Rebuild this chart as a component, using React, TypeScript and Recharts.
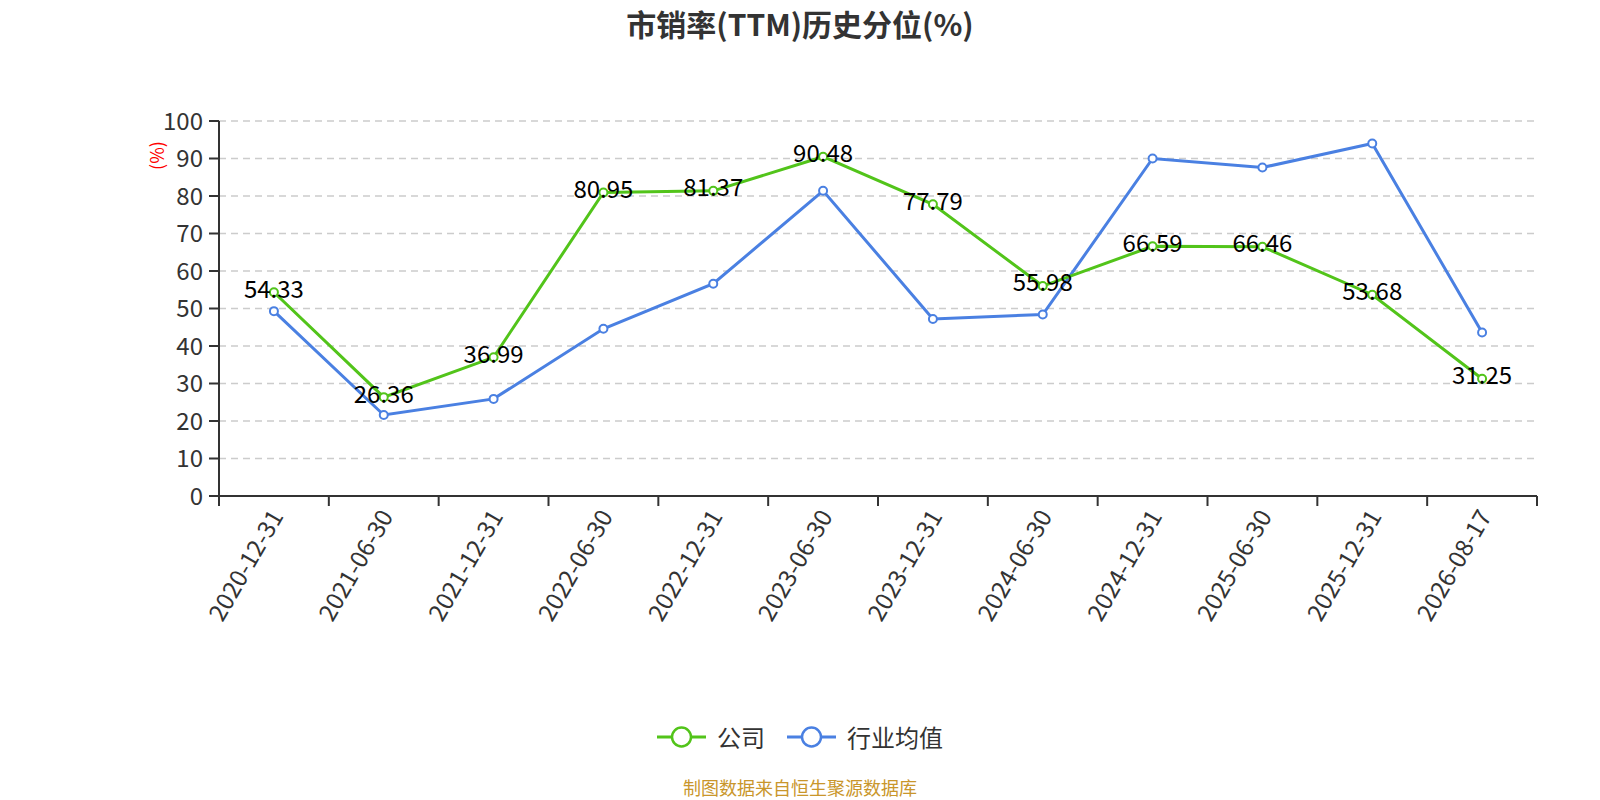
import React from "react";
import {
  LineChart,
  Line,
  XAxis,
  YAxis,
  CartesianGrid,
  LabelList,
} from "recharts";

const dates = [
  "2020-12-31",
  "2021-06-30",
  "2021-12-31",
  "2022-06-30",
  "2022-12-31",
  "2023-06-30",
  "2023-12-31",
  "2024-06-30",
  "2024-12-31",
  "2025-06-30",
  "2025-12-31",
  "2026-08-17",
];
const companyValues = [54.33, 26.36, 36.99, 80.95, 81.37, 90.48, 77.79, 55.98, 66.59, 66.46, 53.68, 31.25];
const industryValues = [49.3, 21.6, 25.9, 44.6, 56.6, 81.4, 47.2, 48.4, 90.0, 87.6, 94.0, 43.6];
const yTicks = [0, 10, 20, 30, 40, 50, 60, 70, 80, 90, 100];

const GREEN = "#52c41a";
const BLUE = "#4a80e2";
const FONT = '"Noto Sans CJK SC", "Noto Sans", sans-serif';

const W = 1600;
const H = 800;
const MARGIN = { top: 121, right: 63, bottom: 154, left: 149 };
const Y_AXIS_W = 70;
const X_AXIS_H = 150;
// width of one category band, used to put tick marks on band edges
const BAND = (W - MARGIN.left - MARGIN.right - Y_AXIS_W) / dates.length;

const data = dates.map((date, i) => ({
  date,
  company: companyValues[i],
  industry: industryValues[i],
}));

// rotated date label under each category + tick marks at the band edges
function DateTick(props: any) {
  const { x, y, payload, index } = props;
  const tx = x + 3;
  const ty = y + 16;
  const left = x - BAND / 2;
  const right = x + BAND / 2;
  return (
    <g>
      <line x1={left} y1={y} x2={left} y2={y + 10} stroke="#333" strokeWidth={2} />
      {index === dates.length - 1 && (
        <line x1={right} y1={y} x2={right} y2={y + 10} stroke="#333" strokeWidth={2} />
      )}
      <text
        x={tx}
        y={ty}
        transform={`rotate(-60, ${tx}, ${ty})`}
        textAnchor="end"
        dy="0.35em"
        fontSize={24}
        fill="#333"
        fontFamily={FONT}
      >
        {payload.value}
      </text>
    </g>
  );
}

function ValueLabel(props: any) {
  const { x, y, value } = props;
  return (
    <text
      x={x}
      y={y - 3}
      dy="0.35em"
      textAnchor="middle"
      fontSize={24}
      fill="#000"
      fontFamily={FONT}
    >
      {value}
    </text>
  );
}

function UnitLabel(props: any) {
  const { viewBox } = props;
  const cx = viewBox.x + 8.5;
  const cy = viewBox.y + 34.5;
  return (
    <text
      x={cx}
      y={cy}
      transform={`rotate(-90, ${cx}, ${cy})`}
      textAnchor="middle"
      dy="0.35em"
      fontSize={18}
      fill="#ff0000"
      fontFamily={FONT}
    >
      (%)
    </text>
  );
}

function LegendItem({ color, text }: { color: string; text: string }) {
  return (
    <span style={{ display: "inline-flex", alignItems: "center" }}>
      <svg width={49} height={24}>
        <line x1={0} y1={12} x2={49} y2={12} stroke={color} strokeWidth={3} />
        <circle cx={24.5} cy={12} r={9.5} fill="#fff" stroke={color} strokeWidth={2.5} />
      </svg>
      <span style={{ marginLeft: 11 }}>{text}</span>
    </span>
  );
}

export default function App() {
  return (
    <div
      style={{
        position: "absolute",
        left: 0,
        top: 0,
        width: W,
        height: H,
        overflow: "hidden",
        background: "#fff",
        fontFamily: FONT,
      }}
    >
      <div
        style={{
          position: "absolute",
          top: 8,
          left: 0,
          width: W,
          textAlign: "center",
          fontSize: 30,
          lineHeight: "30px",
          fontWeight: "bold",
          color: "#333",
          zIndex: 1,
        }}
      >
        市销率(TTM)历史分位(%)
      </div>

      <LineChart width={W} height={H} data={data} margin={MARGIN}>
        <CartesianGrid
          vertical={false}
          stroke="#ccc"
          strokeDasharray="7 5"
          strokeWidth={1.5}
        />
        <XAxis
          dataKey="date"
          height={X_AXIS_H}
          interval={0}
          padding={{ left: BAND / 2, right: BAND / 2 }}
          axisLine={{ stroke: "#333", strokeWidth: 2 }}
          tickLine={false}
          tickSize={0}
          tickMargin={0}
          tick={<DateTick />}
        />
        <YAxis
          width={Y_AXIS_W}
          domain={[0, 100]}
          ticks={yTicks}
          interval={0}
          axisLine={{ stroke: "#333", strokeWidth: 2 }}
          tickLine={{ stroke: "#333", strokeWidth: 2 }}
          tickSize={10}
          tickMargin={6}
          tick={{ fontSize: 24, fill: "#333", fontFamily: FONT }}
          label={<UnitLabel />}
        />
        <Line
          dataKey="industry"
          stroke={BLUE}
          strokeWidth={3}
          dot={{ r: 4, fill: "#fff", stroke: BLUE, strokeWidth: 2 }}
          activeDot={false}
          isAnimationActive={false}
        />
        <Line
          dataKey="company"
          stroke={GREEN}
          strokeWidth={3}
          dot={{ r: 4, fill: "#fff", stroke: GREEN, strokeWidth: 2 }}
          activeDot={false}
          isAnimationActive={false}
        >
          <LabelList dataKey="company" content={<ValueLabel />} />
        </Line>
      </LineChart>

      <div
        style={{
          position: "absolute",
          top: 722,
          left: 0,
          width: W,
          display: "flex",
          justifyContent: "center",
          alignItems: "center",
          gap: 22,
          fontSize: 24,
          lineHeight: "30px",
          color: "#333",
        }}
      >
        <LegendItem color={GREEN} text="公司" />
        <LegendItem color={BLUE} text="行业均值" />
      </div>

      <div
        style={{
          position: "absolute",
          top: 776,
          left: 0,
          width: W,
          textAlign: "center",
          fontSize: 18,
          lineHeight: "22px",
          color: "#c9962b",
        }}
      >
        制图数据来自恒生聚源数据库
      </div>
    </div>
  );
}
